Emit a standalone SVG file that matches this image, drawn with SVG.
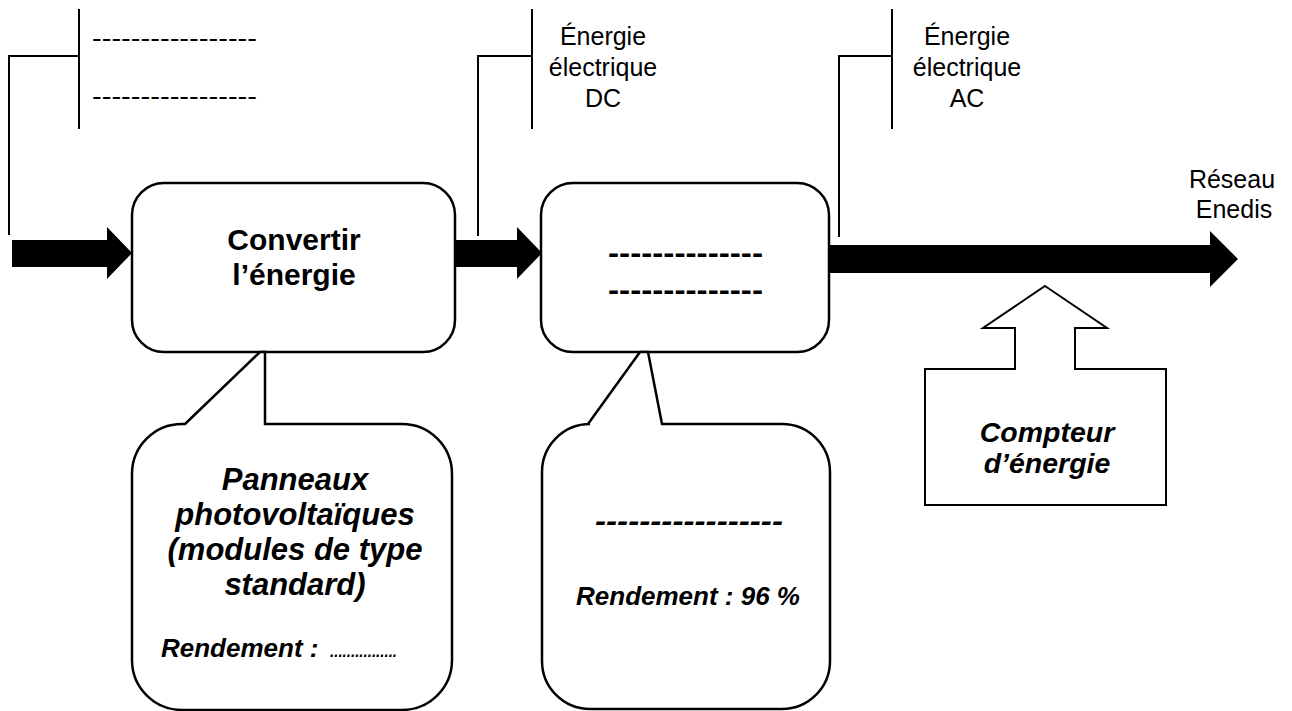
<svg xmlns="http://www.w3.org/2000/svg" width="1292" height="711" viewBox="0 0 1292 711">
<style>
.ln{fill:none;stroke:#000;stroke-width:2}
.bx{fill:#fff;stroke:#000;stroke-width:2.5}
.ar{fill:#000;stroke:none}
.t{font-family:"Liberation Sans",Arial,sans-serif;font-size:25px;fill:#000}
.b{font-family:"Liberation Sans",Arial,sans-serif;font-size:30px;font-weight:bold;fill:#000}
.bi{font-family:"Liberation Sans",Arial,sans-serif;font-weight:bold;font-style:italic;fill:#000}
</style>
<rect width="1292" height="711" fill="#fff"/>
<g id="connectors">
  <path class="ar" d="M12,240 H107 V227 L132,253 L107,279 V267 H12 Z"/>
  <path class="ar" d="M455,240 H517 V227 L542,253 L517,279 V267 H455 Z"/>
  <path class="ar" d="M828,245 H1210 V231 L1238,259 L1210,287 V273 H828 Z"/>
</g>
<g id="label-entree">
  <path class="ln" d="M79,9 V129 M79,56 H9 V235"/>
  <text class="t" x="92" y="47" textLength="165" lengthAdjust="spacingAndGlyphs">-----------------</text>
  <text class="t" x="92" y="105" textLength="165" lengthAdjust="spacingAndGlyphs">-----------------</text>
</g>
<g id="label-dc">
  <path class="ln" d="M532,9 V129 M532,56 H478 V236"/>
  <text class="t" text-anchor="middle" x="603" y="45">Énergie</text>
  <text class="t" text-anchor="middle" x="603" y="76">électrique</text>
  <text class="t" text-anchor="middle" x="603" y="107">DC</text>
</g>
<g id="label-ac">
  <path class="ln" d="M892,9 V129 M892,56 H839 V237"/>
  <text class="t" text-anchor="middle" x="967" y="45">Énergie</text>
  <text class="t" text-anchor="middle" x="967" y="76">électrique</text>
  <text class="t" text-anchor="middle" x="967" y="107">AC</text>
</g>
<g id="label-reseau">
  <text class="t" text-anchor="middle" x="1232" y="188">Réseau</text>
  <text class="t" text-anchor="middle" x="1234" y="218">Enedis</text>
</g>
<g id="box-convertir">
  <rect class="bx" x="132" y="183" width="323" height="169" rx="32"/>
  <text class="b" text-anchor="middle" x="294" y="250">Convertir</text>
  <text class="b" text-anchor="middle" x="294" y="285">l’énergie</text>
</g>
<g id="box-2">
  <rect class="bx" x="541" y="183" width="288" height="169" rx="32"/>
  <text class="b" x="608" y="263" textLength="155" lengthAdjust="spacingAndGlyphs">--------------</text>
  <text class="b" x="608" y="300" textLength="155" lengthAdjust="spacingAndGlyphs">--------------</text>
</g>
<g id="callout-panneaux">
  <path class="bx" d="M185,424 L260,352 L265,352 L265,424 H402 A50,50 0 0 1 452,474 V660 A50,50 0 0 1 402,710 H182 A50,50 0 0 1 132,660 V474 A50,50 0 0 1 182,424 Z"/>
  <text class="bi" font-size="31" text-anchor="middle" x="295" y="490">Panneaux</text>
  <text class="bi" font-size="31" text-anchor="middle" x="295" y="525">photovoltaïques</text>
  <text class="bi" font-size="31" text-anchor="middle" x="295" y="560">(modules de type</text>
  <text class="bi" font-size="31" text-anchor="middle" x="295" y="595">standard)</text>
  <text class="bi" font-size="26" x="161" y="657">Rendement : </text>
  <text class="bi" font-size="16" x="330" y="657" textLength="67" lengthAdjust="spacingAndGlyphs">................</text>
</g>
<g id="callout-2">
  <path class="bx" d="M588,424 L640,352 L648,352 L662,424 H782 A48,48 0 0 1 830,472 V661 A48,48 0 0 1 782,709 H590 A48,48 0 0 1 542,661 V472 A48,48 0 0 1 590,424 Z"/>
  <text class="bi" font-size="30" x="595" y="531" textLength="188" lengthAdjust="spacingAndGlyphs">-----------------</text>
  <text class="bi" font-size="26" text-anchor="middle" x="688" y="605">Rendement : 96 %</text>
</g>
<g id="compteur">
  <path class="ln" d="M1045,286 L1107,328 H1075 V369 H1166 V505 H925 V369 H1015 V328 H983 Z" fill="#fff"/>
  <text class="bi" font-size="28.5" text-anchor="middle" x="1047" y="442">Compteur</text>
  <text class="bi" font-size="28.5" text-anchor="middle" x="1047" y="473">d’énergie</text>
</g>
</svg>
